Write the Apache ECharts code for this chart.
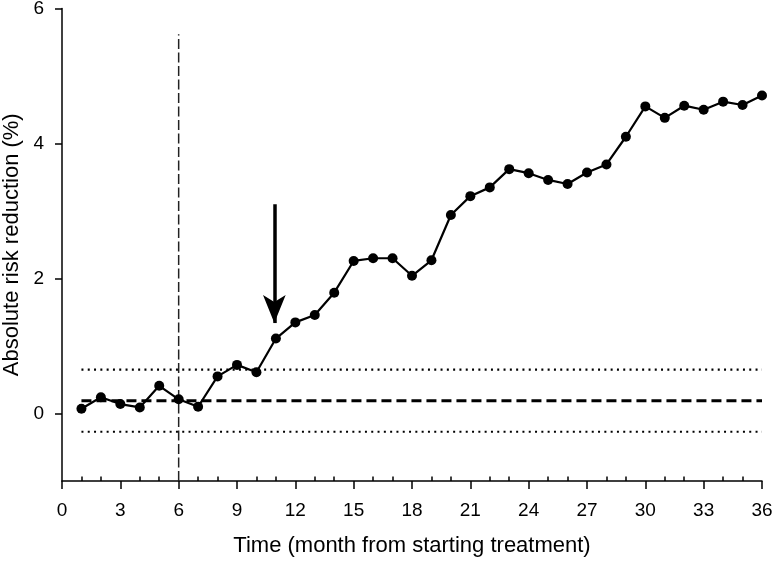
<!DOCTYPE html>
<html>
<head>
<meta charset="utf-8">
<script src="https://cdn.jsdelivr.net/npm/echarts@6/dist/echarts.min.js"></script>
<style>html,body{margin:0;padding:0;background:#fff}#c{width:774px;height:561px}</style>
</head>
<body>
<div id="c"></div>
<script>
// month since start of treatment
var months = [1,2,3,4,5,6,7,8,9,10,11,12,13,14,15,16,17,18,19,20,21,22,23,24,25,26,27,28,29,30,31,32,33,34,35,36];
// absolute risk reduction (%)
var arr = [0.07,0.24,0.14,0.09,0.41,0.21,0.10,0.55,0.72,0.61,1.11,1.35,1.46,1.79,2.26,2.30,2.30,2.04,2.27,2.94,3.22,3.35,3.62,3.56,3.46,3.40,3.57,3.69,4.10,4.55,4.38,4.56,4.50,4.62,4.57,4.71];
// reference levels
var meanLevel = 0.19;
var upperLimit = 0.65;
var lowerLimit = -0.27;
var refStart = 1, refEnd = 36;
// vertical marker at month 6
var vMarkX = 6, vMarkFrom = -1, vMarkTo = 5.62;
// arrow annotation (x, from y, to y)
var arrowX = 10.92, arrowFrom = 3.10, arrowTo = 1.34;
// tick labels
var xTicks = [0,3,6,9,12,15,18,21,24,27,30,33,36];
var xMinor = [1,2,4,5,7,8,10,11,13,14,16,17,19,20,22,23,25,26,28,29,31,32,34,35];
var yTicks = [0,2,4,6];

var FONT = 'Liberation Sans, Arial, sans-serif';
var chart = echarts.init(document.getElementById('c'));
chart.setOption({
  animation: false,
  backgroundColor: '#fff',
  grid: {left: 62, right: 12, top: 8.5, bottom: 80, containLabel: false, outerBoundsMode: 'none'},
  xAxis: [{
    type: 'value', min: 0, max: 36, interval: 3,
    name: 'Time (month from starting treatment)', nameLocation: 'middle', nameGap: 54,
    nameTextStyle: {fontFamily: FONT, fontSize: 22, color: '#000'},
    axisLine: {show: true, onZero: false, lineStyle: {color: '#000', width: 1.5}},
    axisTick: {show: true, length: 8, inside: false, customValues: xTicks, lineStyle: {color: '#000', width: 1.5}},
    axisLabel: {customValues: xTicks, margin: 20, fontFamily: FONT, fontSize: 19, color: '#000'},
    splitLine: {show: false}
  }, {
    type: 'value', min: 0, max: 36, interval: 1, position: 'bottom',
    axisLine: {show: false, onZero: false},
    axisTick: {show: true, length: 4.5, inside: true, customValues: xMinor, lineStyle: {color: '#000', width: 1.5}},
    axisLabel: {show: false},
    splitLine: {show: false}
  }],
  yAxis: {
    type: 'value', min: -1, max: 6, interval: 1,
    name: 'Absolute risk reduction (%)', nameLocation: 'middle', nameGap: 38,
    nameTextStyle: {fontFamily: FONT, fontSize: 22, color: '#000'},
    axisLine: {show: true, onZero: false, lineStyle: {color: '#000', width: 1.5}},
    axisTick: {show: true, length: 7, customValues: yTicks, lineStyle: {color: '#000', width: 1.5}},
    axisLabel: {customValues: yTicks, margin: 18, fontFamily: FONT, fontSize: 19, color: '#000'},
    splitLine: {show: false}
  },
  series: [{
    type: 'line', name: 'vmark', silent: true, symbol: 'none',
    data: [[vMarkX, vMarkFrom], [vMarkX, vMarkTo]],
    lineStyle: {color: '#222', width: 1.5, type: [10, 3.5]}
  }, {
    type: 'line', name: 'upper', silent: true, symbol: 'none',
    data: [[refStart, upperLimit], [refEnd, upperLimit]],
    lineStyle: {color: '#000', width: 2.2, type: [2, 4.3]}
  }, {
    type: 'line', name: 'lower', silent: true, symbol: 'none',
    data: [[refStart, lowerLimit], [refEnd, lowerLimit]],
    lineStyle: {color: '#000', width: 2.2, type: [2, 4.3]}
  }, {
    type: 'line', name: 'mean', silent: true, symbol: 'none',
    data: [[refStart, meanLevel], [refEnd, meanLevel]],
    lineStyle: {color: '#000', width: 3, type: [10, 5]}
  }, {
    type: 'line', name: 'ARR', symbol: 'circle', symbolSize: 10, clip: false,
    data: months.map(function (m, i) { return [m, arr[i]]; }),
    itemStyle: {color: '#000'},
    lineStyle: {color: '#000', width: 2.2},
    markLine: {
      silent: true, symbol: ['none', 'arrow'], symbolSize: [17, 28],
      label: {show: false},
      lineStyle: {color: '#000', width: 3.5, type: 'solid'},
      data: [[{coord: [arrowX, arrowFrom]}, {coord: [arrowX, arrowTo]}]]
    }
  }]
});
</script>
</body>
</html>
